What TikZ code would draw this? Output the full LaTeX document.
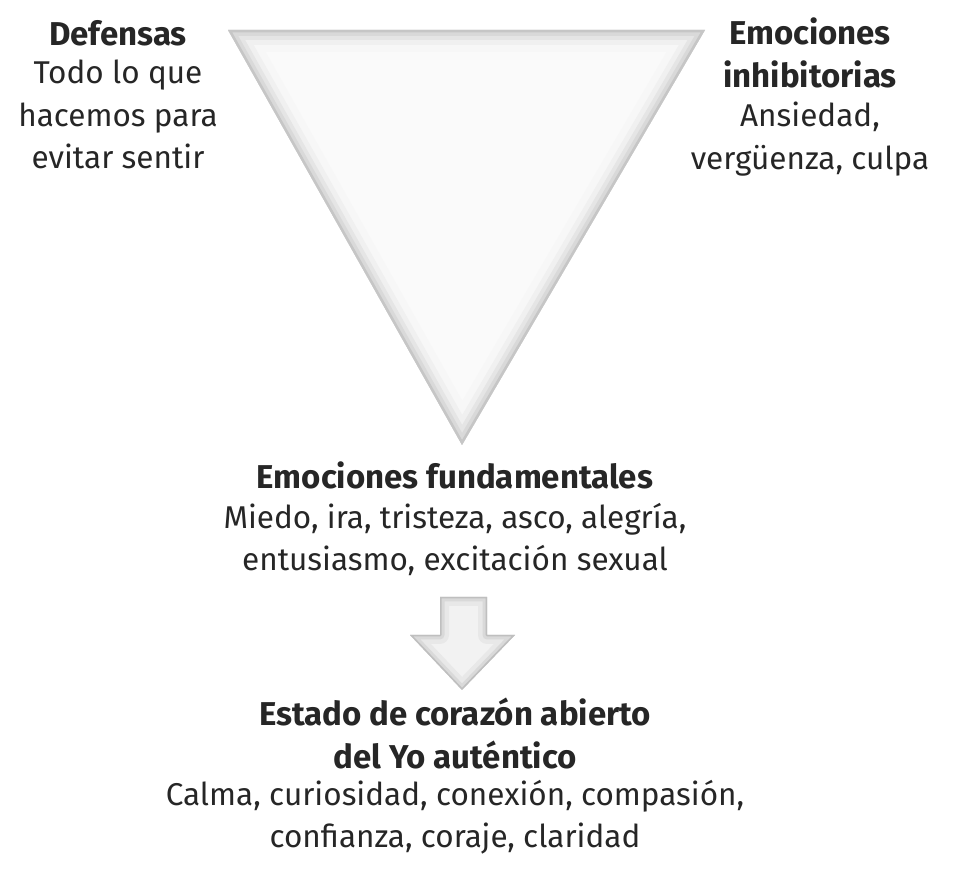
\documentclass[tikz,border=0pt]{standalone}
\usepackage{fontspec}
\setmainfont{Fira Sans}
\usetikzlibrary{shadings}
\begin{document}
\begin{tikzpicture}[x=1pt,y=1pt,
  txt/.style={align=center,font=\fontsize{31.5}{42.5}\selectfont,text=black!85,inner sep=0pt},
  ttl/.style={txt,font=\fontsize{33}{42.5}\selectfont\bfseries}]
\useasboundingbox (0,0) rectangle (956,886);
\begin{scope}
\clip (228,856) -- (705,856) -- (462,441) -- cycle;
\fill[white!96!gray] (228,856) -- (705,856) -- (462,441) -- cycle;
\foreach \w/\c in {44/6,30/12,20/20,12/30,5/45}
  \draw[gray!\c,line width=\w pt,line join=round] (228,856) -- (705,856) -- (462,441) -- cycle;
\end{scope}
\node[ttl,anchor=base] (d) at (118,840) {Defensas};
\node[txt,anchor=north] (dt) at (118,826) {Todo lo que\\hacemos para\\evitar sentir};
\node[ttl,anchor=north] (e) at (810,868) {Emociones\\inhibitorias};
\node[txt,anchor=north] (et) at (810,784) {Ansiedad,\\vergüenza, culpa};
\node[ttl,anchor=base] (f) at (455,397) {Emociones fundamentales};
\node[txt,anchor=north] (ft) at (455,383) {Miedo, ira, tristeza, asco, alegría,\\entusiasmo, excitación sexual};
\begin{scope}
\clip (440,289) -- (487,289) -- (487,251) -- (515,251) -- (462,196) -- (410,251) -- (440,251) -- cycle;
\fill[white!90!gray] (440,289) -- (487,289) -- (487,251) -- (515,251) -- (462,196) -- (410,251) -- (440,251) -- cycle;
\foreach \w/\c in {18/18,9/30,3/50}
  \draw[gray!\c,line width=\w pt,line join=round] (440,289) -- (487,289) -- (487,251) -- (515,251) -- (462,196) -- (410,251) -- (440,251) -- cycle;
\end{scope}
\node[ttl,anchor=north] (s) at (455,188) {Estado de corazón abierto\\del Yo auténtico};
\node[txt,anchor=north] (st) at (455,106) {Calma, curiosidad, conexión, compasión,\\confianza, coraje, claridad};
\end{tikzpicture}
\end{document}
